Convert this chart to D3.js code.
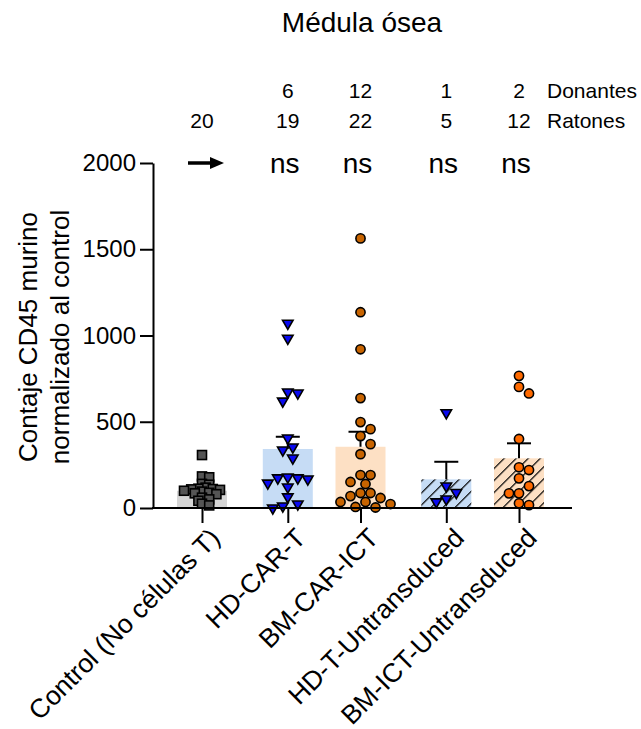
<!DOCTYPE html>
<meta charset="utf-8">
<style>
body { margin: 0; background: #fff; }
text { font-family: "Liberation Sans", Arial, sans-serif; fill: #000; }
</style>
<body>
<script src="https://d3js.org/d3.v7.min.js"></script>
<script>
// groups
const groups = ["Control (No células T)", "HD-CAR-T", "BM-CAR-ICT", "HD-T-Untransduced", "BM-ICT-Untransduced"];
const means = [100, 342, 355, 166, 288];
const sems = [18, 71, 87, 102, 87];
const donantes = ["", "6", "12", "1", "2"];
const ratones = ["20", "19", "22", "5", "12"];
const signif = ["arrow", "ns", "ns", "ns", "ns"];

const ctrlVals = [307, 183, 178, 140, 135, 118, 112, 110, 108, 105, 100, 95, 88, 85, 80, 60, 50, 42, 25, 15];
const hdCarVals = [1077, 990, 678, 672, 625, 411, 359, 342, 295, 185, 180, 180, 174, 150, 127, 70, 29, 17, 6];
const bmCarVals = [1563, 1135, 920, 637, 498, 457, 417, 370, 312, 191, 191, 151, 139, 87, 87, 69, 58, 35, 35, 23, 6, 3];
const hdUntVals = [558, 133, 95, 58, 41];
const bmUntVals = [766, 702, 664, 400, 236, 220, 172, 127, 85, 85, 27, 17];
const pointSets = [ctrlVals, hdCarVals, bmCarVals, hdUntVals, bmUntVals];

const yTicks = [0, 500, 1000, 1500, 2000];

// look
const barFill = ["#d6d6d6", "#c6dcf5", "#fde0c4", "url(#hatchBlue)", "url(#hatchPeach)"];
const markFill = ["#555555", "#0a0af0", "#c86400", "#0a0af0", "#ff6a00"];
const markType = ["square", "tri", "circle", "tri", "circle"];
const slots = [0, 1.18, 2.18, 3.36, 4.36];

var width = 641, height = 729;
var svg = d3.select("body").append("svg")
    .attr("width", width)
    .attr("height", height);

var defs = svg.append("defs");
[["hatchBlue", "#c6dcf5"], ["hatchPeach", "#fde0c4"]].forEach(function(p) {
  var pat = defs.append("pattern")
      .attr("id", p[0])
      .attr("patternUnits", "userSpaceOnUse")
      .attr("width", 8.5).attr("height", 8.5)
      .attr("patternTransform", "rotate(45)");
  pat.append("rect").attr("width", 8.5).attr("height", 8.5).attr("fill", p[1]);
  pat.append("line").attr("x1", 0).attr("y1", 0).attr("x2", 0).attr("y2", 8.5)
      .attr("stroke", "#000").attr("stroke-width", 2.4);
});

var x = d3.scaleLinear().domain([0, 4.36]).range([202, 519]);
var y = d3.scaleLinear().domain([0, 2000]).range([508, 163]);
var axisLeftX = 153, axisRightX = 572;
var barW = 50;

// bars
svg.append("g").selectAll("rect")
  .data(means)
  .join("rect")
    .attr("x", (d, i) => x(slots[i]) - barW / 2)
    .attr("y", d => y(d))
    .attr("width", barW)
    .attr("height", d => y(0) - y(d))
    .attr("fill", (d, i) => barFill[i]);

// error bars (mean + SEM only)
var eb = svg.append("g").attr("stroke", "#000").attr("stroke-width", 2);
means.forEach(function(m, i) {
  var cx = x(slots[i]);
  eb.append("line").attr("x1", cx).attr("x2", cx).attr("y1", y(m)).attr("y2", y(m + sems[i]));
  eb.append("line").attr("x1", cx - 12).attr("x2", cx + 12).attr("y1", y(m + sems[i])).attr("y2", y(m + sems[i]));
});

// simple beeswarm so markers spread sideways like the prism scatter
function swarm(vals, diam, step) {
  var placed = [];
  var out = new Array(vals.length);
  vals.map((v, i) => ({v: v, i: i}))
    .sort((a, b) => b.v - a.v)
    .forEach(function(p) {
      var py = y(p.v);
      for (var k = 0; k < 40; k++) {
        var off = (k % 2 ? 1 : -1) * Math.ceil(k / 2) * step;
        var ok = placed.every(q => Math.hypot(q[0] - off, q[1] - py) >= diam);
        if (ok) { placed.push([off, py]); out[p.i] = off; break; }
      }
    });
  return out;
}

var markers = svg.append("g");
pointSets.forEach(function(vals, gi) {
  var cx = x(slots[gi]);
  var offs = gi === 0 ? swarm(vals, 4.2, 3.6) : swarm(vals, 9.8, 5);
  vals.forEach(function(v, j) {
    var px = cx + offs[j], py = y(v);
    var t = markType[gi];
    var sym;
    if (t === "square") {
      sym = markers.append("rect").attr("x", px - 4.5).attr("y", py - 4.5).attr("width", 9).attr("height", 9);
    } else if (t === "circle") {
      sym = markers.append("circle").attr("cx", px).attr("cy", py).attr("r", 4.6);
    } else {
      sym = markers.append("path")
        .attr("d", d3.symbol(d3.symbolTriangle, 48)())
        .attr("transform", "translate(" + px + "," + (py + 1) + ") rotate(180)");
    }
    sym.attr("fill", markFill[gi]).attr("stroke", "#000").attr("stroke-width", 1.6);
  });
});

// y axis
var yAxis = svg.append("g")
    .attr("transform", "translate(" + axisLeftX + ",0)")
    .call(d3.axisLeft(y).tickValues(yTicks).tickFormat(d3.format("d"))
      .tickSize(13).tickSizeOuter(0).tickPadding(4));
yAxis.select(".domain").attr("stroke-width", 2);
yAxis.selectAll(".tick line").attr("stroke-width", 2);
yAxis.selectAll(".tick text").attr("font-size", 24).attr("font-family", "Liberation Sans, Arial");

// x axis
svg.append("line")
    .attr("x1", axisLeftX - 1).attr("x2", axisRightX)
    .attr("y1", y(0)).attr("y2", y(0))
    .attr("stroke", "#000").attr("stroke-width", 2);
var xAxis = svg.append("g")
    .attr("transform", "translate(0," + y(0) + ")")
    .call(d3.axisBottom(x).tickValues(slots).tickSize(15).tickFormat(""));
xAxis.select(".domain").remove();
xAxis.selectAll(".tick line").attr("stroke-width", 2);

// category labels
svg.append("g").selectAll("text")
  .data(groups)
  .join("text")
    .attr("transform", (d, i) => "translate(" + (x(slots[i]) + 6) + ",526) rotate(-45)")
    .attr("text-anchor", "end")
    .attr("dy", "0.72em")
    .attr("font-size", 26.5)
    .text(d => d);

// header rows
svg.append("g").selectAll("text")
  .data(donantes)
  .join("text")
    .attr("x", (d, i) => x(slots[i]))
    .attr("y", 98)
    .attr("text-anchor", "middle")
    .attr("font-size", 21)
    .text(d => d);
svg.append("g").selectAll("text")
  .data(ratones)
  .join("text")
    .attr("x", (d, i) => x(slots[i]))
    .attr("y", 128)
    .attr("text-anchor", "middle")
    .attr("font-size", 21)
    .text(d => d);
svg.append("text").attr("x", 547).attr("y", 98).attr("font-size", 21).text("Donantes");
svg.append("text").attr("x", 547).attr("y", 128).attr("font-size", 21).text("Ratones");

// significance row
signif.forEach(function(s, i) {
  var cx = x(slots[i]);
  if (s === "arrow") {
    svg.append("line").attr("x1", cx - 14).attr("x2", cx + 10).attr("y1", 163).attr("y2", 163)
      .attr("stroke", "#000").attr("stroke-width", 3.5);
    svg.append("path")
      .attr("d", "M" + (cx + 8) + ",157 L" + (cx + 22) + ",163 L" + (cx + 8) + ",169 Z")
      .attr("fill", "#000");
  } else {
    svg.append("text").attr("x", cx - 3).attr("y", 173)
      .attr("text-anchor", "middle").attr("font-size", 28).text(s);
  }
});

// title
svg.append("text")
    .attr("x", 362).attr("y", 32)
    .attr("text-anchor", "middle")
    .attr("font-size", 28)
    .text("Médula ósea");

// y axis title
svg.append("text")
    .attr("transform", "translate(37,337) rotate(-90)")
    .attr("text-anchor", "middle")
    .attr("font-size", 26)
    .text("Contaje CD45 murino");
svg.append("text")
    .attr("transform", "translate(69,337) rotate(-90)")
    .attr("text-anchor", "middle")
    .attr("font-size", 26)
    .text("normalizado al control");
</script>
</body>
